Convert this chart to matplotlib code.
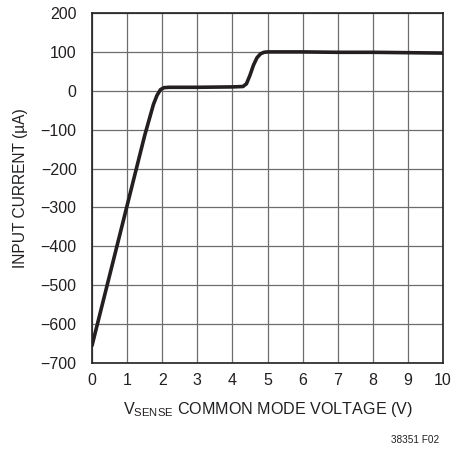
import numpy as np
import matplotlib.pyplot as plt

plt.rcParams['font.family'] = ['Liberation Sans Narrow', 'Liberation Sans', 'DejaVu Sans']
plt.rcParams['mathtext.default'] = 'regular'

# curve
v_sense = [0.0, 0.5, 1.0, 1.5, 1.75, 1.85, 1.95, 2.05, 2.2, 3.0, 4.0, 4.3, 4.4,
           4.5, 4.6, 4.7, 4.8, 4.9, 5.0, 6.0, 7.0, 8.0, 9.0, 10.0]
i_in = [-655, -475, -295, -115, -35, -12, 3, 8, 9, 9, 10, 11, 18,
        40, 66, 85, 95, 99, 100, 100, 99, 99, 98, 97]

x_ticks = list(range(0, 11))
y_ticks = list(range(-700, 201, 100))

fig = plt.figure(figsize=(4.56, 4.49), dpi=100)
ax = fig.add_axes([0.2018, 0.1915, 0.7697, 0.7795])

ax.plot(v_sense, i_in, color='#231f20', linewidth=2.6, solid_capstyle='round',
        solid_joinstyle='round', zorder=3)

ax.set_xlim(0, 10)
ax.set_ylim(-700, 200)
ax.set_xticks(x_ticks)
ax.set_yticks(y_ticks)
ax.grid(True, color='#6d6d6d', linewidth=0.9)
ax.tick_params(length=0, labelsize=11.5, colors='#231f20')
ax.tick_params(axis='y', pad=11)
ax.tick_params(axis='x', pad=7)
for s in ax.spines.values():
    s.set_color('#231f20')
    s.set_linewidth(1.2)

ax.set_xlabel(r'V$_{SENSE}$ COMMON MODE VOLTAGE (V)', fontsize=11.6, color='#231f20', labelpad=9)
ax.set_ylabel('INPUT CURRENT (µA)', fontsize=11.2, color='#231f20', labelpad=9)

fig.text(0.963, 0.02, '38351 F02', fontsize=7.2, ha='right', va='center', color='#231f20')

fig.savefig('out.png', dpi=100)
